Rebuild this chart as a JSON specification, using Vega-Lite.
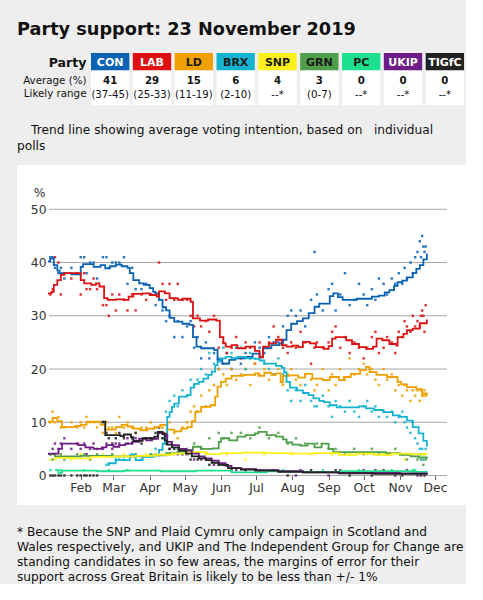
{
"$schema":"https://vega.github.io/schema/vega-lite/v6.json",
"background":"#eeeeee",
"padding":{"left":17,"top":21,"right":0,"bottom":0},
"config":{"font":"DejaVu Sans","view":{"stroke":null},"concat":{"spacing":13}},
"title":{"text":"Party support: 23 November 2019","anchor":"start","fontSize":17.7,"fontWeight":"bold","color":"#111","baseline":"alphabetic","offset":0},
"datasets":{
"trend":[
{"party":"CON","d":"2019-01-04","v":40.2},{"party":"CON","d":"2019-01-06","v":40.8},{"party":"CON","d":"2019-01-09","v":39.5},{"party":"CON","d":"2019-01-12","v":38.5},{"party":"CON","d":"2019-01-14","v":38.0},{"party":"CON","d":"2019-01-24","v":37.8},{"party":"CON","d":"2019-02-01","v":39.2},{"party":"CON","d":"2019-02-03","v":39.7},{"party":"CON","d":"2019-02-12","v":39.2},{"party":"CON","d":"2019-02-18","v":39.5},{"party":"CON","d":"2019-02-22","v":38.9},{"party":"CON","d":"2019-02-26","v":39.3},{"party":"CON","d":"2019-03-03","v":39.6},{"party":"CON","d":"2019-03-08","v":39.3},{"party":"CON","d":"2019-03-13","v":39.0},{"party":"CON","d":"2019-03-15","v":38.0},{"party":"CON","d":"2019-03-18","v":36.7},{"party":"CON","d":"2019-03-23","v":36.1},{"party":"CON","d":"2019-03-27","v":35.8},{"party":"CON","d":"2019-04-01","v":35.2},{"party":"CON","d":"2019-04-04","v":34.5},{"party":"CON","d":"2019-04-06","v":34.2},{"party":"CON","d":"2019-04-09","v":33.0},{"party":"CON","d":"2019-04-12","v":31.6},{"party":"CON","d":"2019-04-15","v":31.0},{"party":"CON","d":"2019-04-18","v":29.6},{"party":"CON","d":"2019-04-22","v":28.9},{"party":"CON","d":"2019-04-29","v":28.5},{"party":"CON","d":"2019-05-05","v":28.3},{"party":"CON","d":"2019-05-08","v":26.0},{"party":"CON","d":"2019-05-11","v":24.2},{"party":"CON","d":"2019-05-15","v":23.9},{"party":"CON","d":"2019-05-26","v":23.6},{"party":"CON","d":"2019-05-29","v":21.7},{"party":"CON","d":"2019-06-02","v":21.0},{"party":"CON","d":"2019-06-08","v":21.7},{"party":"CON","d":"2019-06-13","v":22.0},{"party":"CON","d":"2019-06-21","v":22.3},{"party":"CON","d":"2019-06-28","v":22.9},{"party":"CON","d":"2019-07-04","v":22.3},{"party":"CON","d":"2019-07-07","v":23.9},{"party":"CON","d":"2019-07-14","v":24.5},{"party":"CON","d":"2019-07-21","v":24.8},{"party":"CON","d":"2019-07-24","v":25.5},{"party":"CON","d":"2019-07-27","v":27.3},{"party":"CON","d":"2019-07-31","v":28.5},{"party":"CON","d":"2019-08-05","v":29.0},{"party":"CON","d":"2019-08-10","v":29.5},{"party":"CON","d":"2019-08-15","v":30.5},{"party":"CON","d":"2019-08-20","v":31.7},{"party":"CON","d":"2019-08-24","v":32.3},{"party":"CON","d":"2019-09-02","v":33.7},{"party":"CON","d":"2019-09-05","v":34.2},{"party":"CON","d":"2019-09-09","v":33.5},{"party":"CON","d":"2019-09-13","v":33.0},{"party":"CON","d":"2019-09-25","v":33.2},{"party":"CON","d":"2019-10-03","v":33.2},{"party":"CON","d":"2019-10-08","v":33.6},{"party":"CON","d":"2019-10-14","v":33.8},{"party":"CON","d":"2019-10-19","v":34.4},{"party":"CON","d":"2019-10-23","v":34.8},{"party":"CON","d":"2019-10-27","v":35.6},{"party":"CON","d":"2019-10-30","v":36.3},{"party":"CON","d":"2019-11-03","v":36.6},{"party":"CON","d":"2019-11-07","v":37.2},{"party":"CON","d":"2019-11-12","v":38.0},{"party":"CON","d":"2019-11-15","v":38.8},{"party":"CON","d":"2019-11-18","v":39.5},{"party":"CON","d":"2019-11-21","v":40.6},{"party":"CON","d":"2019-11-24","v":41.7},
{"party":"LAB","d":"2019-01-04","v":34.2},{"party":"LAB","d":"2019-01-07","v":34.5},{"party":"LAB","d":"2019-01-09","v":35.8},{"party":"LAB","d":"2019-01-12","v":36.7},{"party":"LAB","d":"2019-01-15","v":37.7},{"party":"LAB","d":"2019-01-18","v":38.0},{"party":"LAB","d":"2019-02-01","v":36.7},{"party":"LAB","d":"2019-02-04","v":36.1},{"party":"LAB","d":"2019-02-10","v":35.8},{"party":"LAB","d":"2019-02-14","v":36.1},{"party":"LAB","d":"2019-02-17","v":35.5},{"party":"LAB","d":"2019-02-21","v":33.3},{"party":"LAB","d":"2019-02-24","v":33.0},{"party":"LAB","d":"2019-03-03","v":33.1},{"party":"LAB","d":"2019-03-10","v":33.0},{"party":"LAB","d":"2019-03-14","v":33.6},{"party":"LAB","d":"2019-03-18","v":34.1},{"party":"LAB","d":"2019-03-26","v":34.2},{"party":"LAB","d":"2019-04-01","v":33.9},{"party":"LAB","d":"2019-04-07","v":33.6},{"party":"LAB","d":"2019-04-09","v":34.6},{"party":"LAB","d":"2019-04-14","v":34.2},{"party":"LAB","d":"2019-04-18","v":33.3},{"party":"LAB","d":"2019-04-25","v":33.0},{"party":"LAB","d":"2019-04-29","v":33.2},{"party":"LAB","d":"2019-05-06","v":32.6},{"party":"LAB","d":"2019-05-08","v":29.5},{"party":"LAB","d":"2019-05-14","v":29.1},{"party":"LAB","d":"2019-05-21","v":29.3},{"party":"LAB","d":"2019-05-28","v":29.1},{"party":"LAB","d":"2019-05-31","v":26.0},{"party":"LAB","d":"2019-06-03","v":24.8},{"party":"LAB","d":"2019-06-05","v":24.2},{"party":"LAB","d":"2019-06-10","v":24.5},{"party":"LAB","d":"2019-06-15","v":23.9},{"party":"LAB","d":"2019-06-22","v":24.2},{"party":"LAB","d":"2019-06-30","v":23.4},{"party":"LAB","d":"2019-07-04","v":22.2},{"party":"LAB","d":"2019-07-07","v":24.2},{"party":"LAB","d":"2019-07-12","v":24.8},{"party":"LAB","d":"2019-07-18","v":25.5},{"party":"LAB","d":"2019-07-23","v":24.5},{"party":"LAB","d":"2019-07-27","v":24.2},{"party":"LAB","d":"2019-08-01","v":24.4},{"party":"LAB","d":"2019-08-06","v":24.1},{"party":"LAB","d":"2019-08-10","v":25.1},{"party":"LAB","d":"2019-08-16","v":24.8},{"party":"LAB","d":"2019-08-21","v":24.1},{"party":"LAB","d":"2019-08-28","v":23.8},{"party":"LAB","d":"2019-09-01","v":24.3},{"party":"LAB","d":"2019-09-04","v":25.7},{"party":"LAB","d":"2019-09-07","v":26.0},{"party":"LAB","d":"2019-09-16","v":25.4},{"party":"LAB","d":"2019-09-21","v":24.7},{"party":"LAB","d":"2019-09-27","v":24.1},{"party":"LAB","d":"2019-10-03","v":23.8},{"party":"LAB","d":"2019-10-09","v":24.2},{"party":"LAB","d":"2019-10-12","v":25.7},{"party":"LAB","d":"2019-10-17","v":25.4},{"party":"LAB","d":"2019-10-23","v":24.7},{"party":"LAB","d":"2019-10-29","v":24.4},{"party":"LAB","d":"2019-10-30","v":26.0},{"party":"LAB","d":"2019-11-04","v":26.6},{"party":"LAB","d":"2019-11-07","v":27.3},{"party":"LAB","d":"2019-11-12","v":27.6},{"party":"LAB","d":"2019-11-18","v":28.6},{"party":"LAB","d":"2019-11-24","v":29.3},
{"party":"LD","d":"2019-01-04","v":10.1},{"party":"LD","d":"2019-01-08","v":10.8},{"party":"LD","d":"2019-01-12","v":10.2},{"party":"LD","d":"2019-01-16","v":9.1},{"party":"LD","d":"2019-01-27","v":9.3},{"party":"LD","d":"2019-02-01","v":9.5},{"party":"LD","d":"2019-02-06","v":10.1},{"party":"LD","d":"2019-02-18","v":9.5},{"party":"LD","d":"2019-02-22","v":8.6},{"party":"LD","d":"2019-03-03","v":9.1},{"party":"LD","d":"2019-03-08","v":9.5},{"party":"LD","d":"2019-03-13","v":9.2},{"party":"LD","d":"2019-03-18","v":8.8},{"party":"LD","d":"2019-03-24","v":8.5},{"party":"LD","d":"2019-03-30","v":8.8},{"party":"LD","d":"2019-04-05","v":9.1},{"party":"LD","d":"2019-04-10","v":9.5},{"party":"LD","d":"2019-04-16","v":8.6},{"party":"LD","d":"2019-04-22","v":8.3},{"party":"LD","d":"2019-04-28","v":8.8},{"party":"LD","d":"2019-05-03","v":9.1},{"party":"LD","d":"2019-05-07","v":10.2},{"party":"LD","d":"2019-05-10","v":12.0},{"party":"LD","d":"2019-05-15","v":12.9},{"party":"LD","d":"2019-05-23","v":13.2},{"party":"LD","d":"2019-05-27","v":14.8},{"party":"LD","d":"2019-05-29","v":16.7},{"party":"LD","d":"2019-06-01","v":17.6},{"party":"LD","d":"2019-06-05","v":18.2},{"party":"LD","d":"2019-06-10","v":18.7},{"party":"LD","d":"2019-06-20","v":18.9},{"party":"LD","d":"2019-06-30","v":19.2},{"party":"LD","d":"2019-07-03","v":18.7},{"party":"LD","d":"2019-07-08","v":19.3},{"party":"LD","d":"2019-07-14","v":18.9},{"party":"LD","d":"2019-07-18","v":19.2},{"party":"LD","d":"2019-07-22","v":17.5},{"party":"LD","d":"2019-07-24","v":18.7},{"party":"LD","d":"2019-07-29","v":18.8},{"party":"LD","d":"2019-08-06","v":18.4},{"party":"LD","d":"2019-08-12","v":19.1},{"party":"LD","d":"2019-08-18","v":18.2},{"party":"LD","d":"2019-08-27","v":17.9},{"party":"LD","d":"2019-09-02","v":18.5},{"party":"LD","d":"2019-09-10","v":17.9},{"party":"LD","d":"2019-09-14","v":18.5},{"party":"LD","d":"2019-09-20","v":19.1},{"party":"LD","d":"2019-09-28","v":19.8},{"party":"LD","d":"2019-10-03","v":20.4},{"party":"LD","d":"2019-10-06","v":19.4},{"party":"LD","d":"2019-10-12","v":18.9},{"party":"LD","d":"2019-10-21","v":18.5},{"party":"LD","d":"2019-10-30","v":17.6},{"party":"LD","d":"2019-11-02","v":17.1},{"party":"LD","d":"2019-11-07","v":16.6},{"party":"LD","d":"2019-11-15","v":16.2},{"party":"LD","d":"2019-11-20","v":15.4},{"party":"LD","d":"2019-11-24","v":15.0},
{"party":"BRX","d":"2019-02-24","v":2.3},{"party":"BRX","d":"2019-03-03","v":2.9},{"party":"BRX","d":"2019-03-15","v":3.8},{"party":"BRX","d":"2019-03-20","v":2.9},{"party":"BRX","d":"2019-03-26","v":3.5},{"party":"BRX","d":"2019-04-05","v":3.8},{"party":"BRX","d":"2019-04-09","v":4.8},{"party":"BRX","d":"2019-04-12","v":6.0},{"party":"BRX","d":"2019-04-14","v":7.3},{"party":"BRX","d":"2019-04-16","v":11.0},{"party":"BRX","d":"2019-04-18","v":11.9},{"party":"BRX","d":"2019-04-20","v":12.9},{"party":"BRX","d":"2019-04-22","v":13.5},{"party":"BRX","d":"2019-04-26","v":14.8},{"party":"BRX","d":"2019-05-03","v":15.1},{"party":"BRX","d":"2019-05-06","v":16.5},{"party":"BRX","d":"2019-05-09","v":17.2},{"party":"BRX","d":"2019-05-13","v":17.6},{"party":"BRX","d":"2019-05-17","v":18.2},{"party":"BRX","d":"2019-05-21","v":18.9},{"party":"BRX","d":"2019-05-24","v":19.5},{"party":"BRX","d":"2019-05-27","v":20.7},{"party":"BRX","d":"2019-05-29","v":21.4},{"party":"BRX","d":"2019-06-01","v":22.0},{"party":"BRX","d":"2019-06-05","v":22.3},{"party":"BRX","d":"2019-06-10","v":22.0},{"party":"BRX","d":"2019-06-15","v":22.3},{"party":"BRX","d":"2019-06-22","v":22.0},{"party":"BRX","d":"2019-06-30","v":21.9},{"party":"BRX","d":"2019-07-04","v":21.6},{"party":"BRX","d":"2019-07-08","v":21.0},{"party":"BRX","d":"2019-07-18","v":20.6},{"party":"BRX","d":"2019-07-23","v":20.2},{"party":"BRX","d":"2019-07-25","v":19.4},{"party":"BRX","d":"2019-07-27","v":17.6},{"party":"BRX","d":"2019-07-30","v":16.5},{"party":"BRX","d":"2019-08-05","v":16.0},{"party":"BRX","d":"2019-08-10","v":15.5},{"party":"BRX","d":"2019-08-15","v":15.1},{"party":"BRX","d":"2019-08-19","v":14.5},{"party":"BRX","d":"2019-08-24","v":14.0},{"party":"BRX","d":"2019-08-28","v":13.8},{"party":"BRX","d":"2019-09-02","v":13.2},{"party":"BRX","d":"2019-09-08","v":12.8},{"party":"BRX","d":"2019-09-27","v":13.0},{"party":"BRX","d":"2019-10-03","v":12.6},{"party":"BRX","d":"2019-10-10","v":12.3},{"party":"BRX","d":"2019-10-18","v":11.9},{"party":"BRX","d":"2019-10-26","v":11.3},{"party":"BRX","d":"2019-11-01","v":11.0},{"party":"BRX","d":"2019-11-07","v":10.3},{"party":"BRX","d":"2019-11-12","v":9.1},{"party":"BRX","d":"2019-11-17","v":7.9},{"party":"BRX","d":"2019-11-21","v":6.5},{"party":"BRX","d":"2019-11-24","v":5.4},
{"party":"GRN","d":"2019-01-04","v":4.0},{"party":"GRN","d":"2019-01-10","v":3.6},{"party":"GRN","d":"2019-02-01","v":3.7},{"party":"GRN","d":"2019-03-01","v":3.6},{"party":"GRN","d":"2019-04-01","v":3.8},{"party":"GRN","d":"2019-04-15","v":4.2},{"party":"GRN","d":"2019-04-25","v":4.5},{"party":"GRN","d":"2019-05-03","v":4.8},{"party":"GRN","d":"2019-05-08","v":5.4},{"party":"GRN","d":"2019-05-15","v":5.0},{"party":"GRN","d":"2019-05-25","v":5.1},{"party":"GRN","d":"2019-05-30","v":6.3},{"party":"GRN","d":"2019-06-01","v":7.0},{"party":"GRN","d":"2019-06-08","v":6.6},{"party":"GRN","d":"2019-06-15","v":7.3},{"party":"GRN","d":"2019-06-22","v":7.6},{"party":"GRN","d":"2019-06-30","v":7.9},{"party":"GRN","d":"2019-07-03","v":8.2},{"party":"GRN","d":"2019-07-10","v":7.6},{"party":"GRN","d":"2019-07-18","v":7.3},{"party":"GRN","d":"2019-07-24","v":6.8},{"party":"GRN","d":"2019-07-27","v":6.2},{"party":"GRN","d":"2019-08-01","v":5.8},{"party":"GRN","d":"2019-08-08","v":5.6},{"party":"GRN","d":"2019-08-14","v":6.0},{"party":"GRN","d":"2019-08-20","v":5.3},{"party":"GRN","d":"2019-08-26","v":6.0},{"party":"GRN","d":"2019-09-01","v":5.0},{"party":"GRN","d":"2019-09-05","v":4.4},{"party":"GRN","d":"2019-10-05","v":4.4},{"party":"GRN","d":"2019-10-20","v":4.2},{"party":"GRN","d":"2019-11-01","v":3.9},{"party":"GRN","d":"2019-11-10","v":3.6},{"party":"GRN","d":"2019-11-17","v":3.4},{"party":"GRN","d":"2019-11-24","v":3.1},
{"party":"SNP","d":"2019-01-10","v":3.3},{"party":"SNP","d":"2019-01-25","v":3.2},{"party":"SNP","d":"2019-02-10","v":3.5},{"party":"SNP","d":"2019-03-01","v":3.6},{"party":"SNP","d":"2019-03-20","v":3.7},{"party":"SNP","d":"2019-04-05","v":3.9},{"party":"SNP","d":"2019-04-20","v":4.1},{"party":"SNP","d":"2019-05-05","v":4.4},{"party":"SNP","d":"2019-05-20","v":4.0},{"party":"SNP","d":"2019-06-01","v":4.2},{"party":"SNP","d":"2019-06-20","v":4.3},{"party":"SNP","d":"2019-07-10","v":4.2},{"party":"SNP","d":"2019-08-01","v":4.1},{"party":"SNP","d":"2019-08-20","v":4.2},{"party":"SNP","d":"2019-09-10","v":3.9},{"party":"SNP","d":"2019-09-25","v":4.1},{"party":"SNP","d":"2019-10-10","v":3.9},{"party":"SNP","d":"2019-10-25","v":4.1},{"party":"SNP","d":"2019-11-10","v":4.0},{"party":"SNP","d":"2019-11-24","v":3.9},
{"party":"PC","d":"2019-01-10","v":1.0},{"party":"PC","d":"2019-01-13","v":0.5},{"party":"PC","d":"2019-01-16","v":0.9},{"party":"PC","d":"2019-02-15","v":0.8},{"party":"PC","d":"2019-03-10","v":0.9},{"party":"PC","d":"2019-04-10","v":0.8},{"party":"PC","d":"2019-05-10","v":0.9},{"party":"PC","d":"2019-06-10","v":0.6},{"party":"PC","d":"2019-07-10","v":0.8},{"party":"PC","d":"2019-08-10","v":0.7},{"party":"PC","d":"2019-09-10","v":0.8},{"party":"PC","d":"2019-10-10","v":0.8},{"party":"PC","d":"2019-11-10","v":0.7},{"party":"PC","d":"2019-11-24","v":0.6},
{"party":"UKIP","d":"2019-01-04","v":4.1},{"party":"UKIP","d":"2019-01-13","v":5.0},{"party":"UKIP","d":"2019-01-16","v":6.0},{"party":"UKIP","d":"2019-01-30","v":5.7},{"party":"UKIP","d":"2019-02-05","v":5.3},{"party":"UKIP","d":"2019-02-12","v":5.0},{"party":"UKIP","d":"2019-02-19","v":5.3},{"party":"UKIP","d":"2019-02-23","v":5.7},{"party":"UKIP","d":"2019-03-01","v":5.4},{"party":"UKIP","d":"2019-03-06","v":5.7},{"party":"UKIP","d":"2019-03-11","v":6.0},{"party":"UKIP","d":"2019-03-17","v":6.3},{"party":"UKIP","d":"2019-03-23","v":6.9},{"party":"UKIP","d":"2019-03-29","v":6.6},{"party":"UKIP","d":"2019-04-03","v":6.9},{"party":"UKIP","d":"2019-04-08","v":8.0},{"party":"UKIP","d":"2019-04-13","v":7.7},{"party":"UKIP","d":"2019-04-16","v":6.3},{"party":"UKIP","d":"2019-04-20","v":5.7},{"party":"UKIP","d":"2019-04-26","v":5.0},{"party":"UKIP","d":"2019-05-02","v":4.7},{"party":"UKIP","d":"2019-05-07","v":4.1},{"party":"UKIP","d":"2019-05-13","v":3.6},{"party":"UKIP","d":"2019-05-18","v":3.2},{"party":"UKIP","d":"2019-05-24","v":2.8},{"party":"UKIP","d":"2019-05-30","v":2.3},{"party":"UKIP","d":"2019-06-05","v":1.8},{"party":"UKIP","d":"2019-06-10","v":1.4},{"party":"UKIP","d":"2019-06-18","v":1.2},{"party":"UKIP","d":"2019-07-01","v":1.0},{"party":"UKIP","d":"2019-07-20","v":0.8},{"party":"UKIP","d":"2019-08-10","v":0.6},{"party":"UKIP","d":"2019-09-10","v":0.5},{"party":"UKIP","d":"2019-11-01","v":0.4},{"party":"UKIP","d":"2019-11-24","v":0.2},
{"party":"TIGfC","d":"2019-02-19","v":10.1},{"party":"TIGfC","d":"2019-02-22","v":7.6},{"party":"TIGfC","d":"2019-03-07","v":7.4},{"party":"TIGfC","d":"2019-03-10","v":7.7},{"party":"TIGfC","d":"2019-03-16","v":7.2},{"party":"TIGfC","d":"2019-03-18","v":6.5},{"party":"TIGfC","d":"2019-03-26","v":7.0},{"party":"TIGfC","d":"2019-04-05","v":7.3},{"party":"TIGfC","d":"2019-04-08","v":8.2},{"party":"TIGfC","d":"2019-04-12","v":7.8},{"party":"TIGfC","d":"2019-04-14","v":6.6},{"party":"TIGfC","d":"2019-04-16","v":5.8},{"party":"TIGfC","d":"2019-04-20","v":5.3},{"party":"TIGfC","d":"2019-04-26","v":4.7},{"party":"TIGfC","d":"2019-05-02","v":4.1},{"party":"TIGfC","d":"2019-05-07","v":3.6},{"party":"TIGfC","d":"2019-05-13","v":3.2},{"party":"TIGfC","d":"2019-05-19","v":2.9},{"party":"TIGfC","d":"2019-05-24","v":2.4},{"party":"TIGfC","d":"2019-05-30","v":2.0},{"party":"TIGfC","d":"2019-06-07","v":1.4},{"party":"TIGfC","d":"2019-06-18","v":1.1},{"party":"TIGfC","d":"2019-07-01","v":0.9},{"party":"TIGfC","d":"2019-07-20","v":0.7},{"party":"TIGfC","d":"2019-08-10","v":0.6},{"party":"TIGfC","d":"2019-09-10","v":0.4},{"party":"TIGfC","d":"2019-10-10","v":0.3},{"party":"TIGfC","d":"2019-11-24","v":0.2}
],
"polls":[
{"d":"2019-01-06","CON":41,"LAB":34,"LD":10,"GRN":4,"SNP":3,"UKIP":4,"PC":1,"TIGfC":0},
{"d":"2019-01-08","CON":41,"LAB":35,"LD":12,"UKIP":5,"GRN":3,"SNP":4,"TIGfC":0},
{"d":"2019-01-10","CON":39,"LAB":41,"LD":10,"UKIP":6,"GRN":4,"SNP":3,"TIGfC":0},
{"d":"2019-01-13","CON":38,"LAB":40,"LD":11,"UKIP":5,"TIGfC":0},
{"d":"2019-01-15","CON":39,"LAB":34,"LD":9,"UKIP":6,"GRN":4,"SNP":4,"PC":1,"TIGfC":0},
{"d":"2019-01-18","CON":37,"LAB":38,"LD":9,"UKIP":7,"GRN":3,"TIGfC":0},
{"d":"2019-01-24","CON":39,"LAB":37,"LD":10,"UKIP":5,"SNP":3,"TIGfC":0},
{"d":"2019-01-29","CON":38,"LAB":38,"LD":9,"UKIP":6,"GRN":4,"TIGfC":0},
{"d":"2019-02-01","CON":41,"LAB":34,"LD":10,"UKIP":5,"SNP":4,"TIGfC":0},
{"d":"2019-02-04","CON":41,"LAB":38,"LD":9,"UKIP":6,"GRN":4,"PC":1,"TIGfC":0},
{"d":"2019-02-06","CON":38,"LAB":35,"LD":11,"UKIP":4,"TIGfC":0},
{"d":"2019-02-09","CON":40,"LAB":35,"LD":10,"UKIP":5,"GRN":3,"SNP":3,"TIGfC":0},
{"d":"2019-02-12","CON":40,"LAB":37,"LD":10,"UKIP":6,"TIGfC":0},
{"d":"2019-02-15","CON":37,"LAB":35,"LD":9,"UKIP":5,"GRN":4,"TIGfC":0},
{"d":"2019-02-20","CON":41,"LAB":32,"LD":8,"TIGfC":10,"UKIP":5,"SNP":4},
{"d":"2019-02-23","CON":41,"LAB":32,"LD":10,"TIGfC":8,"UKIP":6,"BRX":2},
{"d":"2019-02-25","CON":39,"LAB":30,"LD":9,"TIGfC":7,"BRX":2,"PC":1},
{"d":"2019-02-28","CON":40,"LAB":34,"LD":9,"TIGfC":6,"UKIP":5,"GRN":4},
{"d":"2019-03-03","CON":40,"LAB":31,"LD":8,"TIGfC":7,"BRX":3,"UKIP":6},
{"d":"2019-03-06","CON":40,"LAB":34,"LD":11,"TIGfC":8,"UKIP":6,"GRN":3},
{"d":"2019-03-10","CON":41,"LAB":33,"LD":9,"TIGfC":7,"BRX":3,"SNP":4},
{"d":"2019-03-13","CON":36,"LAB":31,"LD":10,"TIGfC":6,"UKIP":7,"PC":1},
{"d":"2019-03-17","CON":39,"LAB":34,"LD":9,"TIGfC":7,"BRX":4,"UKIP":6},
{"d":"2019-03-20","CON":35,"LAB":31,"LD":8,"TIGfC":8,"UKIP":7,"GRN":4},
{"d":"2019-03-25","CON":35,"LAB":34,"LD":9,"TIGfC":6,"BRX":3},
{"d":"2019-03-29","CON":36,"LAB":33,"LD":9,"TIGfC":7,"UKIP":7,"SNP":4},
{"d":"2019-04-02","CON":34,"LAB":34,"LD":10,"TIGfC":7,"BRX":4,"UKIP":7},
{"d":"2019-04-06","CON":32,"LAB":34,"LD":9,"TIGfC":8,"BRX":5,"GRN":4},
{"d":"2019-04-09","CON":33,"LAB":40,"LD":8,"TIGfC":9,"UKIP":8},
{"d":"2019-04-12","CON":31,"LAB":36,"LD":9,"BRX":7,"TIGfC":7,"UKIP":8},
{"d":"2019-04-15","CON":29,"LAB":33,"LD":8,"BRX":12,"TIGfC":6,"UKIP":6},
{"d":"2019-04-18","CON":30,"LAB":36,"LD":10,"BRX":14,"TIGfC":5,"UKIP":5,"GRN":4},
{"d":"2019-04-22","CON":26,"LAB":33,"LD":8,"BRX":15,"TIGfC":5,"SNP":4},
{"d":"2019-04-25","CON":29,"LAB":36,"LD":7,"BRX":13,"UKIP":4,"GRN":5},
{"d":"2019-04-29","CON":26,"LAB":33,"LD":9,"BRX":16,"TIGfC":4},
{"d":"2019-05-03","CON":28,"LAB":33,"LD":10,"BRX":15,"GRN":5,"UKIP":4},
{"d":"2019-05-06","CON":29,"LAB":30,"LD":12,"BRX":18,"TIGfC":3},
{"d":"2019-05-09","CON":24,"LAB":28,"LD":13,"BRX":17,"GRN":6,"UKIP":3},
{"d":"2019-05-12","CON":26,"LAB":30,"LD":12,"BRX":18,"TIGfC":3},
{"d":"2019-05-15","CON":22,"LAB":28,"LD":15,"BRX":20,"GRN":5,"UKIP":3},
{"d":"2019-05-19","CON":25,"LAB":29,"LD":13,"BRX":19,"SNP":4},
{"d":"2019-05-22","CON":22,"LAB":27,"LD":16,"BRX":23,"GRN":7,"TIGfC":2},
{"d":"2019-05-26","CON":23,"LAB":30,"LD":17,"BRX":21,"UKIP":2},
{"d":"2019-05-30","CON":20,"LAB":24,"LD":20,"BRX":22,"GRN":8,"TIGfC":2},
{"d":"2019-06-03","CON":21,"LAB":25,"LD":19,"BRX":24,"GRN":7,"UKIP":2},
{"d":"2019-06-06","CON":23,"LAB":23,"LD":17,"BRX":21,"SNP":4},
{"d":"2019-06-10","CON":20,"LAB":24,"LD":20,"BRX":23,"GRN":8,"TIGfC":1},
{"d":"2019-06-14","CON":24,"LAB":26,"LD":18,"BRX":22,"UKIP":1},
{"d":"2019-06-18","CON":21,"LAB":22,"LD":19,"BRX":24,"GRN":8},
{"d":"2019-06-22","CON":23,"LAB":25,"LD":20,"BRX":20,"SNP":3,"TIGfC":1},
{"d":"2019-06-26","CON":22,"LAB":24,"LD":17,"BRX":23,"GRN":7},
{"d":"2019-06-30","CON":25,"LAB":21,"LD":21,"BRX":19,"UKIP":1},
{"d":"2019-07-04","CON":24,"LAB":25,"LD":19,"BRX":22,"GRN":9,"TIGfC":1},
{"d":"2019-07-08","CON":23,"LAB":24,"LD":20,"BRX":21,"SNP":4},
{"d":"2019-07-12","CON":26,"LAB":25,"LD":18,"BRX":20,"GRN":7},
{"d":"2019-07-16","CON":25,"LAB":28,"LD":19,"BRX":19,"UKIP":1},
{"d":"2019-07-20","CON":25,"LAB":26,"LD":20,"BRX":22,"GRN":8},
{"d":"2019-07-24","CON":28,"LAB":24,"LD":17,"BRX":19,"PC":1},
{"d":"2019-07-28","CON":30,"LAB":23,"LD":19,"BRX":16,"GRN":6,"TIGfC":0},
{"d":"2019-07-31","CON":31,"LAB":25,"LD":20,"BRX":14,"SNP":4},
{"d":"2019-08-04","CON":30,"LAB":24,"LD":18,"BRX":16,"GRN":7,"UKIP":0},
{"d":"2019-08-08","CON":31,"LAB":27,"LD":17,"BRX":14,"UKIP":1},
{"d":"2019-08-12","CON":28,"LAB":25,"LD":19,"BRX":17,"GRN":6},
{"d":"2019-08-17","CON":33,"LAB":21,"LD":18,"BRX":14,"SNP":4,"TIGfC":1},
{"d":"2019-08-20","CON":42,"LAB":24,"LD":16,"BRX":13},
{"d":"2019-08-22","CON":34,"LAB":25,"LD":17,"BRX":13,"GRN":6},
{"d":"2019-08-27","CON":31,"LAB":24,"LD":20,"BRX":15,"PC":1},
{"d":"2019-09-01","CON":35,"LAB":25,"LD":16,"BRX":13,"GRN":5,"UKIP":0},
{"d":"2019-09-04","CON":36,"LAB":27,"LD":19,"BRX":11,"SNP":4},
{"d":"2019-09-07","CON":31,"LAB":28,"LD":17,"BRX":14,"GRN":5,"TIGfC":1},
{"d":"2019-09-11","CON":34,"LAB":24,"LD":20,"BRX":13,"UKIP":1},
{"d":"2019-09-15","CON":38,"LAB":26,"LD":18,"BRX":12,"GRN":4},
{"d":"2019-09-19","CON":32,"LAB":23,"LD":22,"BRX":14,"SNP":4,"TIGfC":0},
{"d":"2019-09-23","CON":33,"LAB":25,"LD":19,"BRX":12,"GRN":5},
{"d":"2019-09-27","CON":36,"LAB":24,"LD":20,"BRX":11,"PC":1},
{"d":"2019-10-01","CON":34,"LAB":22,"LD":21,"BRX":13,"GRN":4,"UKIP":1},
{"d":"2019-10-04","CON":32,"LAB":24,"LD":19,"BRX":14,"SNP":4},
{"d":"2019-10-08","CON":35,"LAB":26,"LD":20,"BRX":12,"GRN":5,"TIGfC":0},
{"d":"2019-10-11","CON":33,"LAB":27,"LD":18,"BRX":13,"UKIP":1},
{"d":"2019-10-14","CON":37,"LAB":23,"LD":17,"BRX":11,"GRN":4},
{"d":"2019-10-18","CON":36,"LAB":24,"LD":20,"BRX":12,"SNP":4,"TIGfC":1},
{"d":"2019-10-21","CON":34,"LAB":26,"LD":18,"BRX":11,"GRN":4},
{"d":"2019-10-25","CON":37,"LAB":25,"LD":19,"BRX":12,"PC":1},
{"d":"2019-10-28","CON":36,"LAB":23,"LD":16,"BRX":10,"GRN":5,"UKIP":0},
{"d":"2019-10-31","CON":38,"LAB":27,"LD":17,"BRX":11,"SNP":4},
{"d":"2019-11-03","CON":36,"LAB":26,"LD":15,"BRX":12,"GRN":4,"TIGfC":0},
{"d":"2019-11-05","CON":39,"LAB":29,"LD":17,"BRX":10,"SNP":3},
{"d":"2019-11-07","CON":37,"LAB":28,"LD":16,"BRX":9,"GRN":3,"UKIP":1},
{"d":"2019-11-10","CON":40,"LAB":27,"LD":14,"BRX":8,"SNP":4},
{"d":"2019-11-12","CON":38,"LAB":30,"LD":16,"BRX":10,"GRN":4,"PC":1},
{"d":"2019-11-14","CON":41,"LAB":28,"LD":15,"BRX":7,"PC":1},
{"d":"2019-11-16","CON":42,"LAB":29,"LD":16,"BRX":6,"GRN":3,"UKIP":0},
{"d":"2019-11-18","CON":44,"LAB":28,"LD":14,"BRX":5,"SNP":4},
{"d":"2019-11-19","CON":41,"LAB":30,"LD":16,"BRX":4,"GRN":3,"TIGfC":0},
{"d":"2019-11-20","CON":45,"LAB":31,"LD":15,"BRX":5,"SNP":4},
{"d":"2019-11-21","CON":43,"LAB":30,"LD":15,"BRX":3,"GRN":2},
{"d":"2019-11-22","CON":42,"LAB":27,"LD":16,"BRX":4,"SNP":4,"UKIP":0},
{"d":"2019-11-23","CON":43,"LAB":32,"LD":15,"BRX":5,"GRN":3}
]
},
"vconcat":[
{
"width":449,"height":52,
"data":{"values":[
{"party":"CON","avg":"41","range":"(37-45)"},
{"party":"LAB","avg":"29","range":"(25-33)"},
{"party":"LD","avg":"15","range":"(11-19)"},
{"party":"BRX","avg":"6","range":"(2-10)"},
{"party":"SNP","avg":"4","range":"--*"},
{"party":"GRN","avg":"3","range":"(0-7)"},
{"party":"PC","avg":"0","range":"--*"},
{"party":"UKIP","avg":"0","range":"--*"},
{"party":"TIGfC","avg":"0","range":"--*"}]},
"title":{"text":["\u200b\u00a0\u00a0\u00a0\u2009Trend line showing average voting intention, based on\u00a0\u00a0\u00a0individual","polls"],"orient":"bottom","anchor":"start","frame":"group","fontSize":12.2,"fontWeight":"normal","lineHeight":15.5,"offset":19,"color":"#111"},
"encoding":{"x":{"field":"party","type":"nominal","sort":null,"scale":{"paddingInner":0.084,"paddingOuter":0.908,"align":0.974},"axis":null}},
"layer":[
{"mark":{"type":"rect","fill":"white"},"encoding":{"y":{"datum":"a","type":"nominal","scale":{"domain":["h","a","r"],"paddingInner":0,"paddingOuter":0},"axis":{"title":null,"orient":"left","offset":-74,"domain":false,"ticks":false,"labelPadding":5,"labelColor":"#111","labelExpr":"datum.value == 'h' ? 'Party' : datum.value == 'a' ? 'Average (%)' : 'Likely range'","labelFontSize":{"condition":{"test":"datum.value == 'h'","value":12.6},"value":10.3},"labelFontWeight":{"condition":{"test":"datum.value == 'h'","value":"bold"},"value":"normal"},"labelOffset":{"condition":{"test":"datum.value == 'r'","value":-2},"value":1.5}}}}},
{"mark":{"type":"rect","fill":"white"},"encoding":{"y":{"datum":"r","type":"nominal"}}},
{"mark":{"type":"rect"},"encoding":{"y":{"datum":"h","type":"nominal"},"color":{"field":"party","type":"nominal","scale":{"domain":["CON","LAB","LD","BRX","SNP","GRN","PC","UKIP","TIGfC"],"range":["#0a62b4","#dd1111","#efa000","#15b3d0","#fdf01a","#4e9e4a","#1ce08e","#6c1c84","#222222"]},"legend":null}}},
{"mark":{"type":"text","fontWeight":"bold","fontSize":11,"dy":1.5},"encoding":{"y":{"datum":"h","type":"nominal"},"text":{"field":"party"},"color":{"condition":{"test":"indexof(['CON','LAB','UKIP','TIGfC'], datum.party) >= 0","value":"white"},"value":"#1a1a1a"}}},
{"mark":{"type":"text","fontWeight":"bold","fontSize":10.2,"dy":2,"color":"#111"},"encoding":{"y":{"datum":"a","type":"nominal"},"text":{"field":"avg"}}},
{"mark":{"type":"text","fontSize":10.2,"dy":-1.5,"color":"#111"},"encoding":{"y":{"datum":"r","type":"nominal"},"text":{"field":"range"}}}
]
},
{
"width":449,"height":340,
"view":{"fill":"white","stroke":null},
"title":{"text":["* Because the SNP and Plaid Cymru only campaign in Scotland and","Wales respectively, and UKIP and The Independent Group for Change are","standing candidates in so few areas, the margins of error for their","support across Great Britain is likely to be less than +/- 1%"],"orient":"bottom","anchor":"start","frame":"group","fontSize":12.2,"fontWeight":"normal","lineHeight":15,"offset":21,"color":"#111"},
"layer":[
{"data":{"values":[{"g":0},{"g":10},{"g":20},{"g":30},{"g":40},{"g":50}]},
"mark":{"type":"rule","color":"#a8a8a8","strokeWidth":1},
"encoding":{
"y":{"field":"g","type":"quantitative","scale":{"domain":[-5.54,58.32],"nice":false,"zero":false},"axis":{"values":[0,10,20,30,40,50],"offset":-32,"domain":false,"ticks":false,"grid":false,"labelPadding":3,"labelFontSize":12.3,"labelColor":"#333","title":"%","titleAngle":0,"titleAlign":"right","titleBaseline":"alphabetic","titleX":-4,"titleY":31.7,"titleFontSize":12.3,"titleFontWeight":"normal","titleColor":"#333"}},
"x":{"datum":{"year":2019,"month":1,"date":4,"hours":21,"utc":true},"type":"temporal","scale":{"type":"utc","domain":[{"year":2018,"month":12,"date":8,"hours":12,"minutes":30,"utc":true},{"year":2019,"month":12,"date":27,"hours":12,"utc":true}]},"axis":{"values":[{"year":2019,"month":2,"date":1,"utc":true},{"year":2019,"month":3,"date":1,"utc":true},{"year":2019,"month":4,"date":1,"utc":true},{"year":2019,"month":5,"date":1,"utc":true},{"year":2019,"month":6,"date":1,"utc":true},{"year":2019,"month":7,"date":1,"utc":true},{"year":2019,"month":8,"date":1,"utc":true},{"year":2019,"month":9,"date":1,"utc":true},{"year":2019,"month":10,"date":1,"utc":true},{"year":2019,"month":11,"date":1,"utc":true},{"year":2019,"month":12,"date":1,"utc":true}],"labelExpr":"utcFormat(datum.value, '%b')","labelOverlap":false,"offset":-29.5,"domain":false,"grid":false,"tickSize":4,"tickColor":"#666","labelFontSize":12.3,"labelColor":"#333","labelPadding":2,"labelFlush":false,"title":null}},
"x2":{"datum":{"year":2019,"month":12,"date":11,"hours":6,"utc":true}}}},
{"data":{"name":"polls"},
"transform":[{"fold":["CON","LAB","LD","BRX","SNP","GRN","PC","UKIP","TIGfC"],"as":["party","v"]},{"filter":"isValid(datum.v)"}],
"mark":{"type":"square","size":6,"opacity":0.85},
"encoding":{"x":{"field":"d","type":"temporal"},"y":{"field":"v","type":"quantitative"},"color":{"field":"party","type":"nominal","scale":{"domain":["CON","LAB","LD","BRX","SNP","GRN","PC","UKIP","TIGfC"],"range":["#0a56a4","#b80000","#e39a00","#0aa2c2","#e6de00","#3a8f38","#16d48a","#5a1a72","#111111"]},"legend":null}}},
{"data":{"name":"trend"},
"mark":{"type":"line","interpolate":"step-after","strokeWidth":1.8},
"encoding":{"x":{"field":"d","type":"temporal"},"y":{"field":"v","type":"quantitative"},"color":{"field":"party","type":"nominal"}}},
{"mark":{"type":"rule","color":"#222","strokeWidth":1.6,"strokeDash":[2,2]},
"encoding":{"x":{"datum":{"year":2019,"month":11,"date":24,"utc":true},"type":"temporal"},"y":{"datum":0,"type":"quantitative"},"y2":{"datum":50}}},
{"mark":{"type":"rule","color":"#6b0a0a","strokeWidth":1.6},
"encoding":{"x":{"datum":{"year":2019,"month":12,"date":13,"utc":true},"type":"temporal"},"y":{"datum":0,"type":"quantitative"},"y2":{"datum":50}}},
{"mark":{"type":"text","align":"right","baseline":"alphabetic","fontSize":11.2,"color":"#5a0000","dx":1,"dy":-22},
"encoding":{"x":{"datum":{"year":2019,"month":12,"date":13,"utc":true},"type":"temporal"},"y":{"datum":50,"type":"quantitative"},"text":{"value":"12 Dec"}}},
{"mark":{"type":"text","align":"right","baseline":"alphabetic","fontSize":11.3,"fontWeight":"bold","color":"#5a0000","dx":1,"dy":-8.6},
"encoding":{"x":{"datum":{"year":2019,"month":12,"date":13,"utc":true},"type":"temporal"},"y":{"datum":50,"type":"quantitative"},"text":{"value":"Election"}}}
]
}
]
}
